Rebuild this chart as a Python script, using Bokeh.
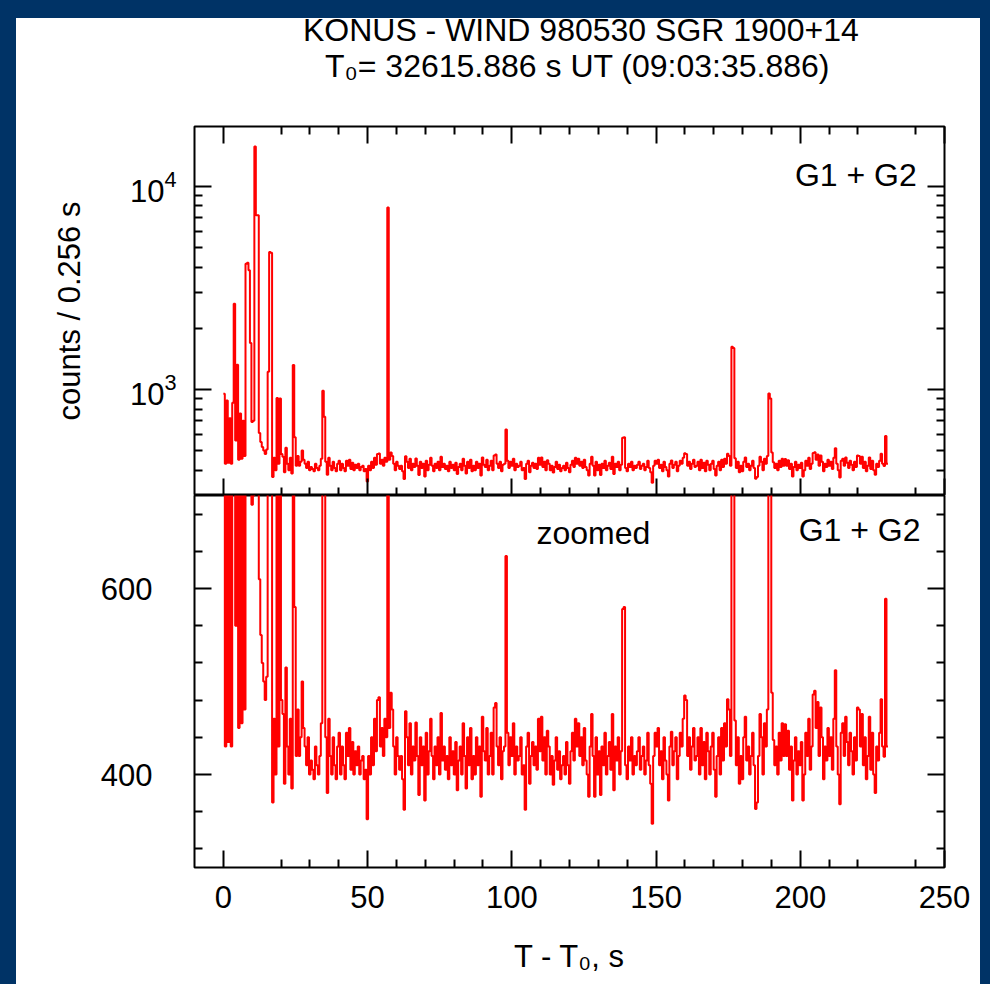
import numpy as np
from bokeh.plotting import figure
from bokeh.models import (LogAxis, LinearAxis, FixedTicker, Label, ColumnDataSource,
                          Range1d)
from bokeh.layouts import column
from bokeh.embed import file_html
from bokeh.resources import INLINE

# ---------------- data (counts per bin) ----------------
BIN_WIDTH = 0.512  # s

counts = [
    950, 430, 880, 435, 720, 430, 860, 2640, 560, 1320,
    450, 760, 455, 700, 470, 4160, 4200, 3860, 1690, 690,
    700, 15700, 7200, 7200, 610, 550, 520, 500, 480, 505,
    1220, 4750, 4700, 370, 460, 400, 906, 430, 900, 480,
    465, 390, 515, 430, 400, 460, 385, 1317, 580, 420,
    470, 420, 440, 500, 450, 430, 410, 440, 400, 415,
    405, 395, 430, 410, 400, 420, 455, 985, 733, 440,
    380, 460, 420, 400, 440, 410, 395, 430, 445, 400,
    430, 410, 395, 445, 420, 450, 405, 435, 400, 425,
    410, 430, 400, 415, 420, 395, 405, 352, 420, 400,
    440, 410, 460, 425, 480, 483, 430, 450, 420, 460,
    440, 7870, 450, 488, 470, 430, 400, 440, 420, 405,
    420, 395, 362, 468, 440, 410, 455, 400, 430, 415,
    456, 420, 378, 440, 410, 430, 372, 445, 400, 425,
    460, 420, 395, 430, 410, 440, 400, 466, 415, 430,
    405, 420, 395, 440, 410, 425, 400, 435, 383, 415,
    430, 400, 455, 420, 385, 440, 410, 450, 395, 420,
    400, 440, 410, 430, 376, 462, 425, 415, 450, 400,
    420, 445, 400, 472, 477, 430, 410, 440, 395, 425,
    430, 635, 445, 410, 440, 420, 455, 400, 430, 415,
    420, 440, 400, 410, 362, 430, 445, 390, 420, 435,
    410, 430, 405, 460, 425, 462, 415, 440, 400, 447,
    430, 400, 420, 389, 415, 440, 405, 425, 395, 410,
    420, 400, 435, 410, 390, 425, 445, 415, 460, 430,
    455, 420, 440, 410, 450, 415, 400, 376, 430, 465,
    420, 376, 440, 400, 425, 378, 430, 410, 445, 400,
    420, 435, 405, 465, 383, 430, 415, 440, 400, 425,
    578, 580, 410, 395, 430, 415, 440, 400, 420, 410,
    425, 440, 405, 420, 430, 400, 415, 445, 410, 390,
    347, 420, 445, 430, 450, 410, 425, 395, 440, 415,
    400, 372, 430, 446, 410, 425, 440, 395, 420, 445,
    430, 460, 485, 480, 420, 440, 405, 430, 450, 415,
    420, 440, 400, 450, 410, 435, 395, 445, 425, 400,
    430, 445, 405, 376, 420, 440, 400, 450, 415, 455,
    430, 481, 470, 420, 1620, 1600, 458, 410, 440, 390,
    420, 395, 440, 462, 415, 430, 400, 420, 445, 410,
    363, 370, 420, 465, 440, 400, 455, 430, 470, 955,
    900, 488, 437, 410, 430, 400, 445, 415, 455, 420,
    454, 420, 447, 405, 430, 372, 415, 440, 400, 425,
    410, 435, 372, 400, 445, 420, 460, 405, 430, 486,
    490, 450, 478, 420, 472, 440, 395, 430, 415, 450,
    420, 440, 405, 460, 512, 430, 400, 368, 445, 455,
    420, 462, 435, 410, 445, 425, 400, 440, 415, 472,
    470, 430, 465, 410, 440, 395, 420, 462, 405, 445,
    400, 380, 430, 415, 445, 481, 430, 419, 589, 430,
]

x_major_ticks = [0, 50, 100, 150, 200, 250]
x_minor_ticks = [20, 30, 40, 60, 70, 80, 90, 110, 120, 130, 140, 160, 170, 180,
                 190, 210, 220, 240]
log_major_ticks = [1000, 10000]
log_minor_ticks = [300, 400, 500, 600, 700, 800, 900,
                   2000, 3000, 4000, 5000, 6000, 7000, 8000, 9000]
lin_major_ticks = [400, 600]
lin_minor_ticks = [320, 360, 440, 480, 520, 560, 640, 680]

title_line1 = "KONUS - WIND  980530  SGR 1900+14"
title_line2 = "T\u2080= 32615.886 s  UT (09:03:35.886)"
y_label = "counts / 0.256 s"
x_label = "T - T\u2080, s"
panel_label = "G1 + G2"
zoom_label = "zoomed"

# ---------------- styling ----------------
FONT = "Liberation Sans"
RED = "#ff0000"
BG = "#003366"

edges = list(np.arange(len(counts) + 1) * BIN_WIDTH)
src = ColumnDataSource(dict(t=edges, c=counts + [counts[-1]]))


def style_axis(ax, major, minor, labels=True, standoff=14):
    ax.ticker = FixedTicker(ticks=major, minor_ticks=minor)
    ax.axis_line_color = None
    ax.major_tick_in = 17
    ax.major_tick_out = 0
    ax.minor_tick_in = 8
    ax.minor_tick_out = 0
    ax.major_tick_line_width = 2
    ax.minor_tick_line_width = 2
    ax.major_tick_line_color = "black"
    ax.minor_tick_line_color = "black"
    ax.major_label_text_font = FONT
    if labels:
        ax.major_label_text_font_size = "31px"
        ax.major_label_text_color = "black"
        ax.major_label_standoff = standoff
    else:
        ax.major_label_text_font_size = "1px"
        ax.major_label_text_color = None
        ax.major_label_standoff = 0
    ax.axis_label_text_font = FONT
    ax.axis_label_text_font_size = "31px"
    ax.axis_label_text_font_style = "normal"
    ax.axis_label_text_color = "black"


def text_label(x, y, text, align):
    return Label(x=x, y=y, text=text, text_align=align, text_baseline="bottom",
                 text_font=FONT, text_font_size="32px", text_color="black")


x_range = Range1d(-10, 250)

# ---------------- title block ----------------
p0 = figure(width=964, height=122, x_range=Range1d(16, 980), y_range=Range1d(122, 0),
            output_backend="svg", toolbar_location=None, title=None,
            x_axis_location=None, y_axis_location=None, min_border=0)
p0.margin = (0, 10, 0, 16)
p0.grid.visible = False
p0.outline_line_color = None
p0.background_fill_color = None
p0.border_fill_color = None
p0.add_layout(text_label(524, 47, title_line1, "center"))
p0.add_layout(text_label(514, 83, title_line2, "center"))

# ---------------- top panel (log) ----------------
p1 = figure(width=964, height=373, x_range=x_range, y_range=Range1d(300, 19700),
            y_axis_type="log", output_backend="svg", toolbar_location=None,
            title=None,
            min_border_left=178, min_border_right=36, min_border_top=4,
            min_border_bottom=0)
p1.margin = (0, 10, 0, 16)
p1.grid.visible = False
p1.outline_line_color = "black"
p1.outline_line_width = 2
p1.background_fill_color = "white"
p1.border_fill_color = "white"

p1.step("t", "c", source=src, mode="after", line_color=RED, line_width=2)

style_axis(p1.yaxis[0], log_major_ticks, log_minor_ticks, labels=True, standoff=18)
p1.yaxis[0].axis_label = y_label
p1.yaxis[0].axis_label_standoff = 40
style_axis(p1.xaxis[0], x_major_ticks, x_minor_ticks, labels=False)

ax_r1 = LogAxis()
style_axis(ax_r1, log_major_ticks, log_minor_ticks, labels=False)
p1.add_layout(ax_r1, "right")
ax_t1 = LinearAxis()
style_axis(ax_t1, x_major_ticks, x_minor_ticks, labels=False)
p1.add_layout(ax_t1, "above")

p1.add_layout(text_label(240.4, 9240, panel_label, "right"))

# ---------------- bottom panel (linear, zoomed) ----------------
p2 = figure(width=964, height=489, x_range=x_range, y_range=Range1d(300, 700),
            output_backend="svg", toolbar_location=None,
            min_border_left=178, min_border_right=36, min_border_top=0,
            min_border_bottom=117)
p2.margin = (0, 10, 0, 16)
p2.grid.visible = False
p2.outline_line_color = "black"
p2.outline_line_width = 2
p2.background_fill_color = "white"
p2.border_fill_color = "white"

p2.step("t", "c", source=src, mode="after", line_color=RED, line_width=2)

style_axis(p2.xaxis[0], x_major_ticks, x_minor_ticks, labels=True, standoff=18)
p2.xaxis[0].axis_label = x_label
p2.xaxis[0].axis_label_standoff = 28
style_axis(p2.yaxis[0], lin_major_ticks, lin_minor_ticks, labels=True, standoff=42)

ax_r2 = LinearAxis()
style_axis(ax_r2, lin_major_ticks, lin_minor_ticks, labels=False)
p2.add_layout(ax_r2, "right")

p2.add_layout(text_label(241.7, 643.5, panel_label, "right"))
p2.add_layout(text_label(128.3, 639.8, zoom_label, "center"))

layout = column(p0, p1, p2, spacing=0,
                styles={"background-color": "white",
                        "box-shadow": f"inset 16px 18px 0 0 {BG}, inset -10px 0 0 0 {BG}"})

open("out.html", "w").write(file_html(layout, INLINE))
